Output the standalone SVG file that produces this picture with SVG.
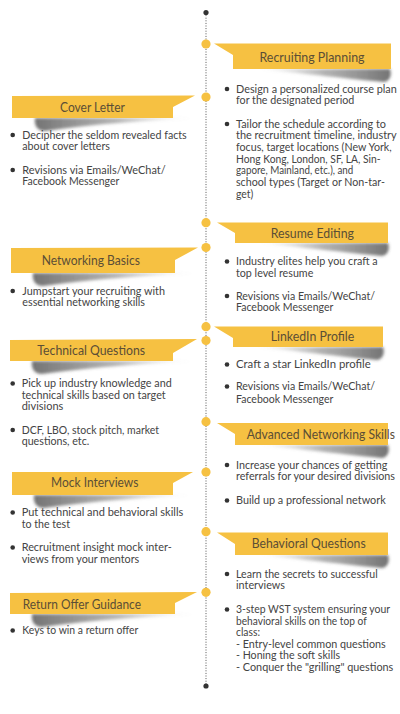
<svg xmlns="http://www.w3.org/2000/svg" width="400" height="714" viewBox="0 0 400 714">
<style>
.bn{fill:#F6C142}
.yd{fill:#F6C142}
.kd{fill:#333}
.bt{font-family:Lato,"Noto Sans",sans-serif;font-size:12.5px;fill:#5b4e36;text-anchor:middle}
.bs{font-family:Lato,"Noto Sans",sans-serif;font-size:12.5px;fill:#5b4e36}
.tx{font-family:Lato,"Noto Sans",sans-serif;font-size:11px;fill:#444}
.bd{fill:#333}
.shL{fill:url(#gL);filter:url(#blur)}
.shR{fill:url(#gR);filter:url(#blur)}
</style>
<defs>
<linearGradient id="gL" x1="0" y1="0" x2="1" y2="0">
<stop offset="0" stop-color="#444" stop-opacity="0.75"/>
<stop offset="0.5" stop-color="#666" stop-opacity="0.5"/>
<stop offset="1" stop-color="#999" stop-opacity="0"/>
</linearGradient>
<linearGradient id="gR" x1="0" y1="0" x2="1" y2="0">
<stop offset="0" stop-color="#999" stop-opacity="0"/>
<stop offset="0.5" stop-color="#666" stop-opacity="0.5"/>
<stop offset="1" stop-color="#444" stop-opacity="0.75"/>
</linearGradient>
<filter id="blur" x="-10%" y="-100%" width="120%" height="300%"><feGaussianBlur stdDeviation="1.8"/></filter>
</defs>
<rect width="400" height="714" fill="#fff"/>
<g id="connectors">
<line x1="206" y1="12.5" x2="206" y2="686" stroke="#555" stroke-width="1" stroke-dasharray="1 1.6"/>
<circle class="kd" cx="206" cy="12.5" r="2.6"/>
<circle class="kd" cx="206" cy="686" r="2.6"/>
</g>
<g id="recruiting-planning">
<circle class="yd" cx="206" cy="44" r="4.6"/>
<path class="shR" d="M258,69 L390,69 C392,75 390,81 384,82 C330,77 290,72 258,69 Z"/>
<path class="bn" d="M214,43.5 L391,43.5 L391,69 L233,69 L233,55 Z"/>
<text class="bt" x="312" y="61.5" textLength="105" lengthAdjust="spacingAndGlyphs">Recruiting Planning</text>
<circle class="bd" cx="227" cy="89" r="2.3"/>
<text class="tx" x="236" y="92.5" textLength="160.7" lengthAdjust="spacingAndGlyphs">Design a personalized course plan</text>
<text class="tx" x="236" y="104" textLength="118.3" lengthAdjust="spacingAndGlyphs">for the designated period</text>
<circle class="bd" cx="227" cy="124" r="2.3"/>
<text class="tx" x="236" y="127.5" textLength="150" lengthAdjust="spacingAndGlyphs">Tailor the schedule according to</text>
<text class="tx" x="236" y="139" textLength="160.7" lengthAdjust="spacingAndGlyphs">the recruitment timeline, industry</text>
<text class="tx" x="236" y="151" textLength="155.7" lengthAdjust="spacingAndGlyphs">focus, target locations (New York,</text>
<text class="tx" x="236" y="162.5" textLength="144.5" lengthAdjust="spacingAndGlyphs">Hong Kong, London, SF, LA, Sin-</text>
<text class="tx" x="236" y="174" textLength="117.3" lengthAdjust="spacingAndGlyphs">gapore, Mainland, etc.), and</text>
<text class="tx" x="236" y="186" textLength="149" lengthAdjust="spacingAndGlyphs">school types (Target or Non-tar-</text>
<text class="tx" x="236" y="197.5" textLength="17.3" lengthAdjust="spacingAndGlyphs">get)</text>
</g>
<g id="cover-letter">
<circle class="yd" cx="206" cy="97" r="4.6"/>
<path class="shL" d="M35,118 L195,118 C150,120 95,124 45,131 C37,131 34,125 35,118 Z"/>
<path class="bn" d="M12,96 L195,95.5 L173,107 L173,118 L12,118 Z"/>
<text class="bt" x="92.5" y="111.5" textLength="65" lengthAdjust="spacingAndGlyphs">Cover Letter</text>
<circle class="bd" cx="12.7" cy="135" r="2.3"/>
<text class="tx" x="22.3" y="138.5" textLength="164.4" lengthAdjust="spacingAndGlyphs">Decipher the seldom revealed facts</text>
<text class="tx" x="22.3" y="150" textLength="87.7" lengthAdjust="spacingAndGlyphs">about cover letters</text>
<circle class="bd" cx="12.7" cy="170" r="2.3"/>
<text class="tx" x="22.3" y="173.5" textLength="143.4" lengthAdjust="spacingAndGlyphs">Revisions via Emails/WeChat/</text>
<text class="tx" x="22.3" y="185" textLength="97" lengthAdjust="spacingAndGlyphs">Facebook Messenger</text>
</g>
<g id="resume-editing">
<circle class="yd" cx="206" cy="222.7" r="4.6"/>
<path class="shR" d="M258,243 L388,243 C390,249 388,255 382,256 C330,251 290,246 258,243 Z"/>
<path class="bn" d="M217,222.5 L388,222.5 L388,243 L235,243 L235,233 Z"/>
<text class="bt" x="312.3" y="238" textLength="83.3" lengthAdjust="spacingAndGlyphs">Resume Editing</text>
<circle class="bd" cx="227" cy="261.5" r="2.3"/>
<text class="tx" x="236" y="265" textLength="141.7" lengthAdjust="spacingAndGlyphs">Industry elites help you craft a</text>
<text class="tx" x="236" y="277" textLength="77.3" lengthAdjust="spacingAndGlyphs">top level resume</text>
<circle class="bd" cx="227" cy="296" r="2.3"/>
<text class="tx" x="236" y="299.5" textLength="139" lengthAdjust="spacingAndGlyphs">Revisions via Emails/WeChat/</text>
<text class="tx" x="236" y="311" textLength="97.3" lengthAdjust="spacingAndGlyphs">Facebook Messenger</text>
</g>
<g id="networking-basics">
<circle class="yd" cx="206" cy="247.5" r="4.6"/>
<path class="shL" d="M33,273 L197,273 C150,275 95,279 43,286 C35,286 32,280 33,273 Z"/>
<path class="bn" d="M11,248 L198,247.5 L175,260 L175,273 L11,273 Z"/>
<text class="bt" x="90.8" y="265" textLength="98.3" lengthAdjust="spacingAndGlyphs">Networking Basics</text>
<circle class="bd" cx="12.7" cy="291" r="2.3"/>
<text class="tx" x="22.3" y="294.5" textLength="142.7" lengthAdjust="spacingAndGlyphs">Jumpstart your recruiting with</text>
<text class="tx" x="22.3" y="306" textLength="122.7" lengthAdjust="spacingAndGlyphs">essential networking skills</text>
</g>
<g id="linkedin-profile">
<circle class="yd" cx="206" cy="326.7" r="4.6"/>
<path class="shR" d="M255,347 L383,347 C385,353 383,359 377,360 C325,355 287,350 255,347 Z"/>
<path class="bn" d="M214,326.5 L383,326.5 L383,347 L233,347 L233,338 Z"/>
<text class="bt" x="312.5" y="341" textLength="83.6" lengthAdjust="spacingAndGlyphs">LinkedIn Profile</text>
<circle class="bd" cx="227" cy="364.5" r="2.3"/>
<text class="tx" x="236" y="368" textLength="134.7" lengthAdjust="spacingAndGlyphs">Craft a star LinkedIn profile</text>
<circle class="bd" cx="227" cy="386.5" r="2.3"/>
<text class="tx" x="236" y="390" textLength="139" lengthAdjust="spacingAndGlyphs">Revisions via Emails/WeChat/</text>
<text class="tx" x="236" y="402.5" textLength="97.3" lengthAdjust="spacingAndGlyphs">Facebook Messenger</text>
</g>
<g id="technical-questions">
<circle class="yd" cx="206" cy="340.5" r="4.6"/>
<path class="shL" d="M32,361 L195,361 C150,363 95,367 42,374 C34,374 31,368 32,361 Z"/>
<path class="bn" d="M10,340 L197,339 L173,353 L173,361 L10,361 Z"/>
<text class="bt" x="91.2" y="355" textLength="107.7" lengthAdjust="spacingAndGlyphs">Technical Questions</text>
<circle class="bd" cx="12.7" cy="383.5" r="2.3"/>
<text class="tx" x="21.7" y="387" textLength="150" lengthAdjust="spacingAndGlyphs">Pick up industry knowledge and</text>
<text class="tx" x="21.7" y="398.5" textLength="144" lengthAdjust="spacingAndGlyphs">technical skills based on target</text>
<text class="tx" x="21.7" y="410" textLength="41.6" lengthAdjust="spacingAndGlyphs">divisions</text>
<circle class="bd" cx="12.7" cy="430" r="2.3"/>
<text class="tx" x="21.7" y="433.5" textLength="137.3" lengthAdjust="spacingAndGlyphs">DCF, LBO, stock pitch, market</text>
<text class="tx" x="21.7" y="445" textLength="67.6" lengthAdjust="spacingAndGlyphs">questions, etc.</text>
</g>
<g id="advanced-networking-skills">
<circle class="yd" cx="206" cy="421.7" r="4.6"/>
<path class="shR" d="M258,445 L388,445 C390,451 388,457 382,458 C330,453 290,448 258,445 Z"/>
<path class="bn" d="M217,423 L388,423 L388,445 L235,445 L235,434 Z"/>
<text class="bs" x="246.7" y="438.5" textLength="148.3" lengthAdjust="spacingAndGlyphs">Advanced Networking Skills</text>
<circle class="bd" cx="227" cy="465" r="2.3"/>
<text class="tx" x="236" y="468.5" textLength="151.3" lengthAdjust="spacingAndGlyphs">Increase your chances of getting</text>
<text class="tx" x="236" y="480" textLength="159" lengthAdjust="spacingAndGlyphs">referrals for your desired divisions</text>
<circle class="bd" cx="227" cy="500.5" r="2.3"/>
<text class="tx" x="236" y="504" textLength="149.7" lengthAdjust="spacingAndGlyphs">Build up a professional network</text>
</g>
<g id="mock-interviews">
<circle class="yd" cx="206" cy="472" r="4.6"/>
<path class="shL" d="M34,495 L193,495 C150,497 95,501 44,508 C36,508 33,502 34,495 Z"/>
<path class="bn" d="M12,472 L193,472 L173,483 L173,495 L12,495 Z"/>
<text class="bt" x="94.7" y="487" textLength="87.3" lengthAdjust="spacingAndGlyphs">Mock Interviews</text>
<circle class="bd" cx="12.7" cy="512.5" r="2.3"/>
<text class="tx" x="21.7" y="516" textLength="161.6" lengthAdjust="spacingAndGlyphs">Put technical and behavioral skills</text>
<text class="tx" x="21.7" y="528" textLength="48.3" lengthAdjust="spacingAndGlyphs">to the test</text>
<circle class="bd" cx="12.7" cy="547.5" r="2.3"/>
<text class="tx" x="21.7" y="551" textLength="150" lengthAdjust="spacingAndGlyphs">Recruitment insight mock inter-</text>
<text class="tx" x="21.7" y="563" textLength="117.6" lengthAdjust="spacingAndGlyphs">views from your mentors</text>
</g>
<g id="behavioral-questions">
<circle class="yd" cx="206" cy="531.7" r="4.6"/>
<path class="shR" d="M258,555 L388,555 C390,561 388,567 382,568 C330,563 290,558 258,555 Z"/>
<path class="bn" d="M217,532.5 L388,532.5 L388,555 L235,555 L235,544 Z"/>
<text class="bt" x="308.7" y="547.5" textLength="114" lengthAdjust="spacingAndGlyphs">Behavioral Questions</text>
<circle class="bd" cx="227" cy="574" r="2.3"/>
<text class="tx" x="236" y="577.5" textLength="141.7" lengthAdjust="spacingAndGlyphs">Learn the secrets to successful</text>
<text class="tx" x="236" y="589" textLength="49" lengthAdjust="spacingAndGlyphs">interviews</text>
<circle class="bd" cx="227" cy="609.5" r="2.3"/>
<text class="tx" x="236" y="613" textLength="154" lengthAdjust="spacingAndGlyphs">3-step WST system ensuring your</text>
<text class="tx" x="236" y="624.5" textLength="130.7" lengthAdjust="spacingAndGlyphs">behavioral skills on the top of</text>
<text class="tx" x="236" y="636" textLength="24" lengthAdjust="spacingAndGlyphs">class:</text>
<text class="tx" x="236" y="647.5" textLength="149.7" lengthAdjust="spacingAndGlyphs">- Entry-level common questions</text>
<text class="tx" x="236" y="659" textLength="104" lengthAdjust="spacingAndGlyphs">- Honing the soft skills</text>
<text class="tx" x="236" y="671" textLength="157.3" lengthAdjust="spacingAndGlyphs">- Conquer the "grilling" questions</text>
</g>
<g id="return-offer-guidance">
<circle class="yd" cx="206" cy="592.3" r="4.6"/>
<path class="shL" d="M32,614 L197,614 C150,616 95,620 42,627 C34,627 31,621 32,614 Z"/>
<path class="bn" d="M10,593 L197,592 L175,603 L175,614 L10,614 Z"/>
<text class="bs" x="22.7" y="608.5" textLength="118.3" lengthAdjust="spacingAndGlyphs">Return Offer Guidance</text>
<circle class="bd" cx="12.7" cy="630.5" r="2.3"/>
<text class="tx" x="22.3" y="634" textLength="116" lengthAdjust="spacingAndGlyphs">Keys to win a return offer</text>
</g>
</svg>
